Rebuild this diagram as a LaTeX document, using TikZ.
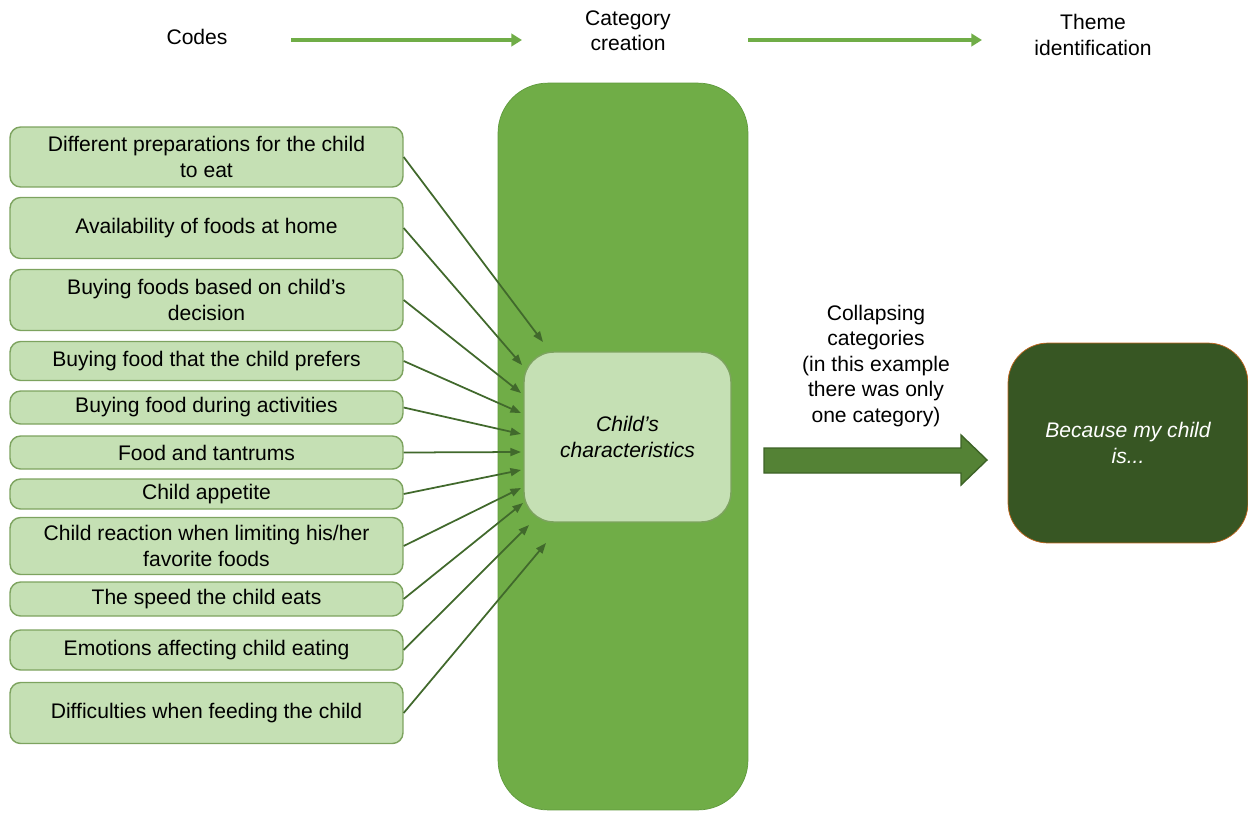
\documentclass[tikz,border=0pt]{standalone}
\usepackage{fontspec}
\setmainfont{Liberation Sans}
\usetikzlibrary{arrows.meta}
\definecolor{midgreen}{HTML}{70AD47}
\definecolor{midline}{HTML}{5F9A3C}
\definecolor{lightgreen}{HTML}{C5E0B4}
\definecolor{boxline}{HTML}{7DA35F}
\definecolor{linkgreen}{HTML}{41692C}
\definecolor{darkgreen}{HTML}{375623}
\definecolor{rustline}{HTML}{C0651E}
\definecolor{blockgreen}{HTML}{548235}
\definecolor{blockline}{HTML}{3D6327}

\begin{document}
\begin{tikzpicture}[x=0.02cm, y=-0.02cm, font=\fontsize{12}{14.5}\selectfont,
  codebox/.style={draw=boxline, fill=lightgreen, line width=0.8pt, rounded corners=6pt,
    minimum width=7.86cm, inner sep=1pt, align=center},
  link/.style={draw=linkgreen, line width=1pt, -{Triangle[length=6pt,width=4.5pt]}},
  flow/.style={draw=midgreen, line width=2.5pt, -{Triangle[length=6pt,width=7pt]}}]
\useasboundingbox (0,0) rectangle (1248,812);

% Headings
\node (codes) at (197,37) {Codes};
\node[align=center] (cat) at (628,31) {Category\\creation};
\node[align=center] (theme) at (1093,35) {Theme\\identification};
\coordinate (a1) at (291,40);
\coordinate (a2) at (522,40);
\coordinate (b1) at (748,40);
\coordinate (b2) at (982,40);
\draw[flow] (a1) -- (a2);
\draw[flow] (b1) -- (b2);

% Category column
\node[draw=midline, fill=midgreen, rounded corners=1cm, minimum width=5cm,
  minimum height=14.54cm] (column) at (623,446.5) {};
\node[draw=boxline, fill=lightgreen, line width=0.8pt, rounded corners=0.6cm,
  minimum width=4.14cm, minimum height=3.4cm, align=center, font=\fontsize{12}{14.5}\selectfont\itshape]
  (child) at (627.5,437) {Child’s\\characteristics};

% Codes
\foreach \i/\y/\h/\txt in {
  1/157/1.2/{Different preparations for the child\\to eat},
  2/228/1.22/{Availability of foods at home},
  3/300/1.22/{Buying foods based on child’s\\decision},
  4/361/0.78/{Buying food that the child prefers},
  5/407.5/0.66/{Buying food during activities},
  6/452.5/0.66/{Food and tantrums},
  7/494/0.6/{Child appetite},
  8/546/1.14/{Child reaction when limiting his/her\\favorite foods},
  9/599/0.68/{The speed the child eats},
  10/650/0.8/{Emotions affecting child eating},
  11/713/1.22/{Difficulties when feeding the child}}
  \node[codebox, minimum height=\h cm] (c\i) at (206.5,\y) {\txt};

% Arrows
\foreach \i/\ex/\ey in {1/543/342, 2/522/365, 3/521/393, 4/521/413, 5/521/434,
  6/521/452, 7/521/470, 8/521/488, 9/523/503, 10/529/525, 11/546/543} {
  \coordinate (e\i) at (\ex,\ey);
  \draw[link] (c\i.east) -- (e\i);
}

% Collapsing
\node[align=center] (collapse) at (876,366)
  {Collapsing\\categories\\(in this example\\there was only\\one category)};
\draw[fill=blockgreen, draw=blockline, line width=0.8pt]
  (764,448) -- (961,448) -- (961,435) -- (987,460) -- (961,485) -- (961,473) -- (764,473) -- cycle;

% Theme
\node[draw=rustline, fill=darkgreen, rounded corners=0.8cm, minimum width=4.8cm,
  minimum height=4cm, align=center, text=white, font=\fontsize{12}{14.5}\selectfont\itshape]
  (because) at (1128,443) {Because my child\\is...};

\end{tikzpicture}
\end{document}
